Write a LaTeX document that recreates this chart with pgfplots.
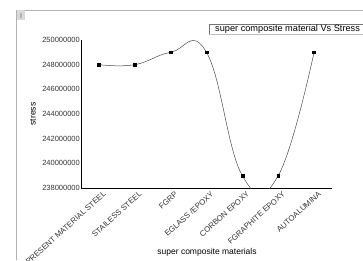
\documentclass[border=0pt]{standalone}
\usepackage{pgfplots}
\pgfplotsset{compat=1.18}
\usepackage{fontspec}
\setmainfont{Liberation Sans}
\begin{document}
\begin{tikzpicture}
\useasboundingbox (0pt,0pt) rectangle (363pt,260pt);
\clip (0pt,0pt) rectangle (363pt,260pt);
\draw[gray!60, line width=0.8pt] (16pt,0pt) -- (16pt,250pt) -- (363pt,250pt);
\fill[gray!30] (16.5pt,240pt) rectangle (25pt,249.5pt);
\fill[gray!60] (19.5pt,242pt) rectangle (21.5pt,247pt);
\begin{axis}[
  at={(81pt,72pt)}, anchor=south west,
  scale only axis, width=251pt, height=148pt,
  xmin=-0.5, xmax=6.5, ymin=238000000, ymax=250000000,
  axis x line*=bottom, axis y line*=left,
  axis line style={-, black, line width=0.8pt},
  major tick length=0pt,
  clip=true,
  xtick={0,1,2,3,4,5,6},
  xticklabels={PRESENT MATERIAL STEEL, STAILESS STEEL, FGRP, EGLASS /EPOXY, CORBON EPOXY, FGRAPHITE EPOXY, AUTOALUMINA},
  x tick label style={rotate=42, anchor=north east, font=\fontsize{7.8}{8}\selectfont, inner sep=0.5pt, xshift=1.5pt, yshift=-4pt, text=black!80},
  ytick={238000000,240000000,242000000,244000000,246000000,248000000,250000000},
  scaled y ticks=false,
  y tick label style={font=\fontsize{7.5}{8}\selectfont, inner sep=1pt, text=black!80},
  yticklabel style={/pgf/number format/fixed, /pgf/number format/1000 sep={}, /pgf/number format/assume math mode=true},
]
\addplot[gray!60!black, line width=0.5pt, smooth, tension=0.75, mark=square*, mark size=1.4pt, mark options={black, solid}] coordinates {(0,248000000) (1,248000000) (2,249000000) (3,249000000) (4,239000000) (5,239000000) (6,249000000)};
\end{axis}
\node[rotate=90, font=\fontsize{8.5}{9}\selectfont] at (33pt,146pt) {stress};
\node[font=\fontsize{8.5}{9}\selectfont] at (207pt,8pt) {super composite materials};
\fill[white] (209pt,226pt) rectangle (370pt,236pt);
\draw[gray!50, line width=0.6pt] (209pt,226pt) -- (370pt,226pt);
\draw[gray!90!black, line width=0.6pt] (209pt,226pt) -- (209pt,236pt) -- (370pt,236pt);
\node[anchor=west, font=\fontsize{9.2}{10}\selectfont, inner sep=0pt] at (215pt,231pt) {super composite material Vs Stress};
\end{tikzpicture}
\end{document}
